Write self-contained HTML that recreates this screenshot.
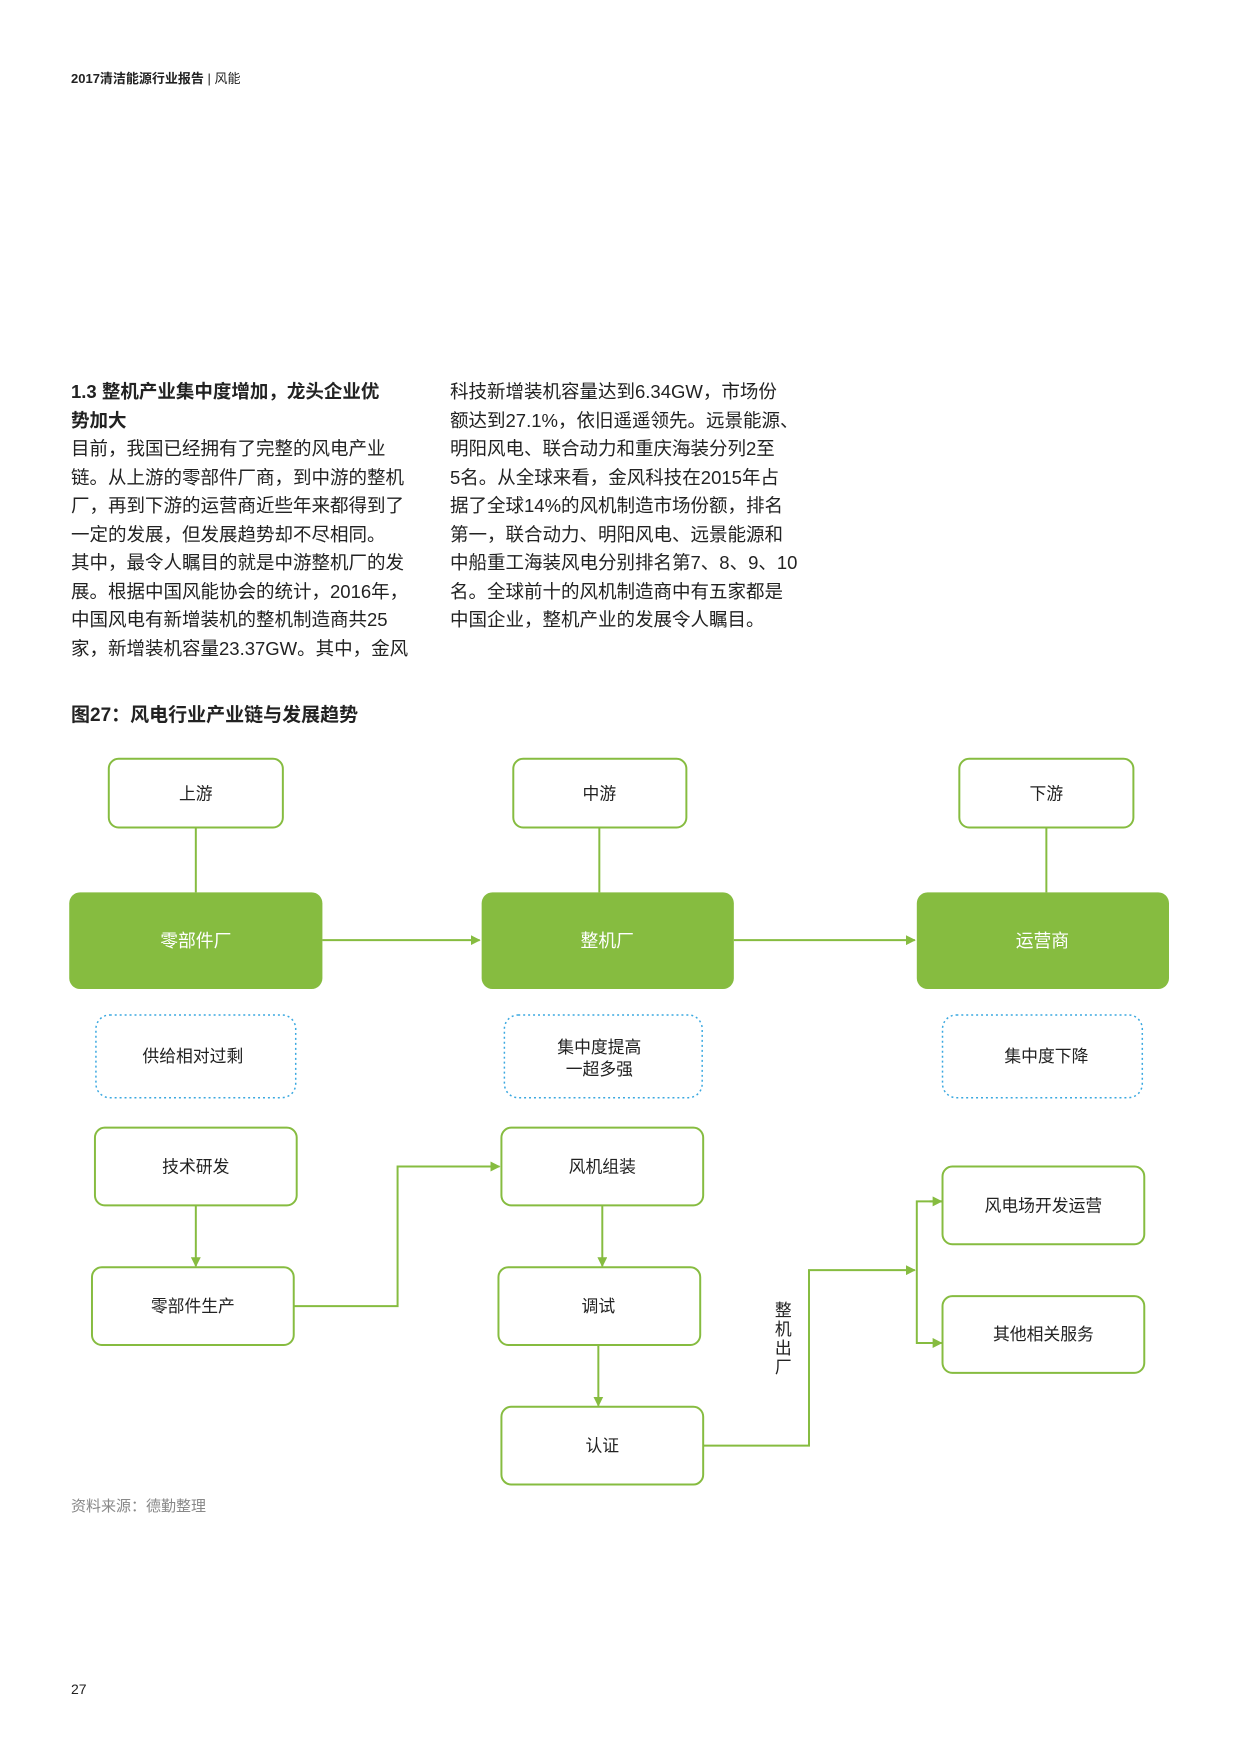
<!DOCTYPE html>
<html><head><meta charset="utf-8"><style>
body{margin:0;width:1240px;height:1754px;background:#fff;position:relative;font-family:"Liberation Sans","Noto Sans CJK SC",sans-serif;color:#222;overflow:hidden}
.a{position:absolute}
.col{position:absolute;top:378px;font-size:18.5px;line-height:28.5px;width:350px;white-space:nowrap}
</style></head><body>
<div class="a" style="left:71px;top:68px;font-size:13px;"><b>2017清洁能源行业报告</b> | 风能</div>
<div class="col" style="left:71px">
<b>1.3 整机产业集中度增加，龙头企业优<br>势加大</b><br>
目前，我国已经拥有了完整的风电产业<br>链。从上游的零部件厂商，到中游的整机<br>厂，再到下游的运营商近些年来都得到了<br>一定的发展，但发展趋势却不尽相同。<br>其中，最令人瞩目的就是中游整机厂的发<br>展。根据中国风能协会的统计，2016年，<br>中国风电有新增装机的整机制造商共25<br>家，新增装机容量23.37GW。其中，金风
</div>
<div class="col" style="left:450px">
科技新增装机容量达到6.34GW，市场份<br>额达到27.1%，依旧遥遥领先。远景能源、<br>明阳风电、联合动力和重庆海装分列2至<br>5名。从全球来看，金风科技在2015年占<br>据了全球14%的风机制造市场份额，排名<br>第一，联合动力、明阳风电、远景能源和<br>中船重工海装风电分别排名第7、8、9、10<br>名。全球前十的风机制造商中有五家都是<br>中国企业，整机产业的发展令人瞩目。
</div>
<div class="a" style="left:71px;top:700px;font-size:19px;font-weight:bold">图27：风电行业产业链与发展趋势</div>
<svg class="a" style="left:0;top:0" width="1240" height="1754" font-family="Liberation Sans,Noto Sans CJK SC,sans-serif" font-size="17" text-anchor="middle">
<defs><marker id="m" markerWidth="10" markerHeight="10" refX="9" refY="5" orient="auto" markerUnits="userSpaceOnUse"><path d="M0,0 L10,5 L0,10z" fill="#86bc40"/></marker></defs>
<g transform="translate(0,2) scale(0.989,0.997)">
<g fill="none" stroke="#86bc40" stroke-width="2">
<line x1="198" y1="828" x2="198" y2="893"/><line x1="606" y1="828" x2="606" y2="893"/><line x1="1058" y1="828" x2="1058" y2="893"/>
<line x1="326" y1="941" x2="485" y2="941" marker-end="url(#m)"/>
<line x1="742" y1="941" x2="925" y2="941" marker-end="url(#m)"/>
<line x1="198" y1="1207" x2="198" y2="1268" marker-end="url(#m)"/>
<line x1="609" y1="1207" x2="609" y2="1268" marker-end="url(#m)"/>
<line x1="605" y1="1347" x2="605" y2="1408" marker-end="url(#m)"/>
<polyline points="297,1308 402,1308 402,1168 505,1168" marker-end="url(#m)"/>
<polyline points="711,1448 818,1448 818,1272 925,1272" marker-end="url(#m)"/>
<polyline points="952,1203 927,1203 927,1345 952,1345" marker-end="url(#m)"/>
<line x1="940" y1="1203" x2="952" y2="1203" marker-end="url(#m)"/>
<rect x="110" y="759" width="176" height="69" rx="10"/><rect x="519" y="759" width="175" height="69" rx="10"/><rect x="970" y="759" width="176" height="69" rx="10"/>
<rect x="96" y="1129" width="204" height="78" rx="10"/><rect x="93" y="1269" width="204" height="78" rx="10"/>
<rect x="507" y="1129" width="204" height="78" rx="10"/><rect x="504" y="1269" width="204" height="78" rx="10"/><rect x="507" y="1409" width="204" height="78" rx="10"/>
<rect x="953" y="1168" width="204" height="78" rx="10"/><rect x="953" y="1298" width="204" height="77" rx="10"/>
</g>
<g fill="#86bc40"><rect x="70" y="893" width="256" height="97" rx="11"/><rect x="487" y="893" width="255" height="97" rx="11"/><rect x="927" y="893" width="255" height="97" rx="11"/></g>
<g fill="none" stroke="#3aa8e0" stroke-width="1.5" stroke-dasharray="2,3"><rect x="97" y="1016" width="202" height="83" rx="14"/><rect x="510" y="1016" width="200" height="83" rx="14"/><rect x="953" y="1016" width="202" height="83" rx="14"/></g>
<g fill="#222"><text x="198" y="800">上游</text><text x="606" y="800">中游</text><text x="1058" y="800">下游</text>
<text x="195" y="1063">供给相对过剩</text><text x="606" y="1054">集中度提高</text><text x="606" y="1076">一超多强</text><text x="1058" y="1063">集中度下降</text>
<text x="198" y="1174">技术研发</text><text x="195" y="1314">零部件生产</text><text x="609" y="1174">风机组装</text><text x="605" y="1314">调试</text><text x="609" y="1454">认证</text>
<text x="1055" y="1213">风电场开发运营</text><text x="1055" y="1342">其他相关服务</text>
<text x="792" y="1318">整</text><text x="792" y="1337">机</text><text x="792" y="1356">出</text><text x="792" y="1375">厂</text></g>
<g fill="#fff" font-size="18"><text x="198" y="948">零部件厂</text><text x="614" y="948">整机厂</text><text x="1054" y="948">运营商</text></g>
</g>
<text x="71" y="1511" text-anchor="start" fill="#888" font-size="15">资料来源：德勤整理</text>
<text x="71" y="1694" text-anchor="start" fill="#222" font-size="14">27</text>
</svg>
</body></html>
